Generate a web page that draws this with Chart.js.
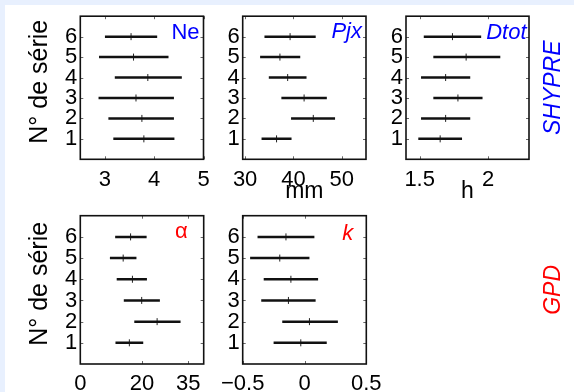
<!DOCTYPE html>
<html>
<head>
<meta charset="utf-8">
<title>Intervalles par série</title>
<script src="https://cdn.jsdelivr.net/npm/chart.js@4.4.1/dist/chart.umd.min.js"></script>
<style>
    html, body { margin: 0; padding: 0; background: #e8f0fe; }
    #page { position: relative; width: 574px; height: 392px; overflow: hidden; }
    #sheet { position: absolute; left: 5px; top: 5px; right: 0; bottom: 0; background: #ffffff; }
    #page canvas { position: absolute; left: 0; top: 0; }
</style>
</head>
<body>
<div id="page">
    <div id="sheet"></div>
    <canvas id="cNe" width="574" height="392"></canvas>
    <canvas id="cPjx" width="574" height="392"></canvas>
    <canvas id="cDtot" width="574" height="392"></canvas>
    <canvas id="cAlpha" width="574" height="392"></canvas>
    <canvas id="cK" width="574" height="392"></canvas>
</div>
<script>
// N° de série (axe vertical)
const rows = [1, 2, 3, 4, 5, 6];
const rowTicks = [1, 2, 3, 4, 5, 6];

// SHYPRE - Ne
const neLow  = [3.17, 3.07, 2.87, 3.20, 2.88, 3.00];
const neMid  = [3.79, 3.75, 3.63, 3.87, 3.58, 3.53];
const neHigh = [4.41, 4.40, 4.40, 4.56, 4.29, 4.06];
const neTicks = [3, 4, 5];

// SHYPRE - Pjx (mm)
const pjxLow  = [33.4, 39.5, 37.5, 34.9, 33.1, 34.0];
const pjxMid  = [36.5, 44.1, 42.2, 38.8, 37.2, 39.3];
const pjxHigh = [39.6, 48.6, 46.9, 42.7, 41.4, 44.6];
const pjxTicks = [30, 40, 50];

// SHYPRE - Dtot (h)
const dtotLow  = [1.49, 1.51, 1.60, 1.51, 1.60, 1.53];
const dtotMid  = [1.65, 1.69, 1.78, 1.69, 1.84, 1.74];
const dtotHigh = [1.81, 1.87, 1.96, 1.87, 2.09, 1.95];
const dtotTicks = [1.5, 2];

// GPD - alpha
const alphaLow  = [11.4, 17.5, 14.1, 11.8, 9.6, 11.3];
const alphaMid  = [15.9, 24.9, 19.9, 16.9, 13.9, 16.3];
const alphaHigh = [20.4, 32.5, 25.8, 21.6, 18.2, 21.5];
const alphaTicks = [0, 20, 35];

// GPD - k
const kLow  = [-0.25, -0.18, -0.35, -0.33, -0.44, -0.38];
const kMid  = [-0.03, 0.04, -0.13, -0.11, -0.20, -0.15];
const kHigh = [0.18, 0.27, 0.09, 0.11, 0.04, 0.08];
const kTicks = [-0.5, 0, 0.5];

const FONT = "'Liberation Sans', Arial, Helvetica, sans-serif";

// Cadre, petites graduations intérieures, titre du panneau et étiquettes tournées
const framePlugin = {
    id: 'frame',
    afterDatasetsDraw(chart, args, opts) {
        const ctx = chart.ctx;
        const a = chart.chartArea;
        const sx = chart.scales.x;
        const sy = chart.scales.y;
        ctx.save();
        ctx.strokeStyle = '#666';
        ctx.lineWidth = 1;
        ctx.beginPath();
        sy.ticks.forEach(t => {
            const py = Math.round(sy.getPixelForValue(t.value)) + 0.5;
            ctx.moveTo(a.left, py); ctx.lineTo(a.left + 3, py);
            ctx.moveTo(a.right - 3, py); ctx.lineTo(a.right, py);
        });
        sx.ticks.forEach(t => {
            const px = Math.round(sx.getPixelForValue(t.value)) + 0.5;
            ctx.moveTo(px, a.bottom); ctx.lineTo(px, a.bottom - 3);
            ctx.moveTo(px, a.top); ctx.lineTo(px, a.top + 3);
        });
        ctx.stroke();

        ctx.strokeStyle = '#111';
        ctx.lineWidth = 1.6;
        ctx.strokeRect(a.left, a.top, a.right - a.left, a.bottom - a.top);

        // titre du panneau (coin haut droit)
        ctx.fillStyle = opts.color;
        ctx.font = (opts.italic ? 'italic ' : '') + '22px ' + FONT;
        ctx.textAlign = 'right';
        ctx.textBaseline = 'alphabetic';
        ctx.fillText(opts.title, a.right - opts.dx, a.top + opts.dy);

        // textes verticaux : "N° de série" à gauche, SHYPRE / GPD à droite
        const vText = (txt, x, y, font, color) => {
            ctx.save();
            ctx.translate(x, y);
            ctx.rotate(-Math.PI / 2);
            ctx.font = font;
            ctx.fillStyle = color;
            ctx.textAlign = 'center';
            ctx.textBaseline = 'middle';
            ctx.fillText(txt, 0, 0);
            ctx.restore();
        };
        const midY = (a.top + a.bottom) / 2;
        if (opts.yTitle) vText(opts.yTitle, 40.5, midY - 6, '25px ' + FONT, '#000');
        if (opts.side) vText(opts.side, 554, midY, 'italic 23px ' + FONT, opts.color);
        ctx.restore();
    }
};

function fmtTick(v) {
    return v < 0 ? '\u2212' + Math.abs(v) : String(v);
}

function makePanel(id, p) {
    const barData = rows.map((r, i) => ({ x: [p.low[i], p.high[i]], y: r }));
    const midData = rows.map((r, i) => ({ x: p.mid[i], y: r }));

    return new Chart(document.getElementById(id), {
        type: 'bar',
        data: {
            datasets: [
                {
                    type: 'bar',
                    indexAxis: 'y',
                    data: barData,
                    backgroundColor: '#111',
                    borderWidth: 0,
                    borderSkipped: false,
                    inflateAmount: 0,
                    barThickness: 2.5
                },
                {
                    type: 'scatter',
                    data: midData,
                    pointStyle: 'line',
                    rotation: 90,
                    radius: 3.5,
                    borderColor: '#222',
                    borderWidth: 1
                }
            ]
        },
        options: {
            responsive: false,
            animation: false,
            devicePixelRatio: 1,
            events: [],
            layout: {
                padding: { left: 0, top: p.top, right: 574 - p.right, bottom: 392 - p.bottom - p.xh }
            },
            plugins: {
                legend: { display: false },
                tooltip: { enabled: false },
                frame: { title: p.title, color: p.color, italic: p.italic, dx: p.dx, dy: p.dy,
                         side: p.side, yTitle: p.yTitle ? 'N° de série' : null }
            },
            scales: {
                x: {
                    type: 'linear',
                    position: 'bottom',
                    offset: false,
                    min: p.min,
                    max: p.max,
                    afterBuildTicks: s => { s.ticks = p.ticks.map(v => ({ value: v })); },
                    afterFit: s => { s.height = p.xh; },
                    grid: { display: false, drawTicks: false, offset: false },
                    border: { display: false },
                    ticks: {
                        autoSkip: false,
                        maxRotation: 0,
                        padding: 7,
                        color: '#000',
                        font: { family: FONT, size: 22 },
                        callback: v => fmtTick(v)
                    },
                    title: {
                        display: !!p.xTitle,
                        text: p.xTitle || '',
                        color: '#000',
                        font: { family: FONT, size: 23 },
                        padding: { top: 0, bottom: 0 }
                    }
                },
                y: {
                    type: 'linear',
                    position: 'left',
                    offset: false,
                    min: 0,
                    max: 7,
                    afterBuildTicks: s => { s.ticks = rowTicks.map(v => ({ value: v })); },
                    afterFit: s => { s.width = p.left; },
                    grid: { display: false, drawTicks: false, offset: false },
                    border: { display: false },
                    ticks: {
                        autoSkip: false,
                        padding: 3,
                        color: '#000',
                        font: { family: FONT, size: 22 }
                    }
                }
            }
        },
        plugins: [framePlugin]
    });
}

document.addEventListener('DOMContentLoaded', function () {
    // ligne du haut : SHYPRE
    makePanel('cNe', {
        low: neLow, mid: neMid, high: neHigh, ticks: neTicks, min: 2.5, max: 5,
        left: 80.3, right: 203.5, top: 11.3, bottom: 159.3, xh: 46,
        yTitle: true, title: 'Ne', color: '#0000ff', italic: false, dx: 4, dy: 23
    });
    makePanel('cPjx', {
        low: pjxLow, mid: pjxMid, high: pjxHigh, ticks: pjxTicks, min: 29.5, max: 55,
        left: 242.7, right: 366, top: 11.3, bottom: 159.3, xh: 46, xTitle: 'mm',
        title: 'Pjx', color: '#0000ff', italic: true, dx: 4, dy: 22
    });
    makePanel('cDtot', {
        low: dtotLow, mid: dtotMid, high: dtotHigh, ticks: dtotTicks, min: 1.4, max: 2.3,
        left: 406, right: 529, top: 11.3, bottom: 159.3, xh: 46, xTitle: 'h',
        title: 'Dtot', color: '#0000ff', italic: true, dx: 2.5, dy: 23, side: 'SHYPRE'
    });

    // ligne du bas : GPD
    makePanel('cAlpha', {
        low: alphaLow, mid: alphaMid, high: alphaHigh, ticks: alphaTicks, min: 0, max: 40,
        left: 80.3, right: 203.7, top: 215.7, bottom: 364, xh: 28,
        yTitle: true, title: 'α', color: '#ff0000', italic: false, dx: 16, dy: 22
    });
    makePanel('cK', {
        low: kLow, mid: kMid, high: kHigh, ticks: kTicks, min: -0.5, max: 0.5,
        left: 242.7, right: 366.3, top: 215.7, bottom: 364, xh: 28,
        title: 'k', color: '#ff0000', italic: true, dx: 13, dy: 24, side: 'GPD'
    });
});
</script>
</body>
</html>
